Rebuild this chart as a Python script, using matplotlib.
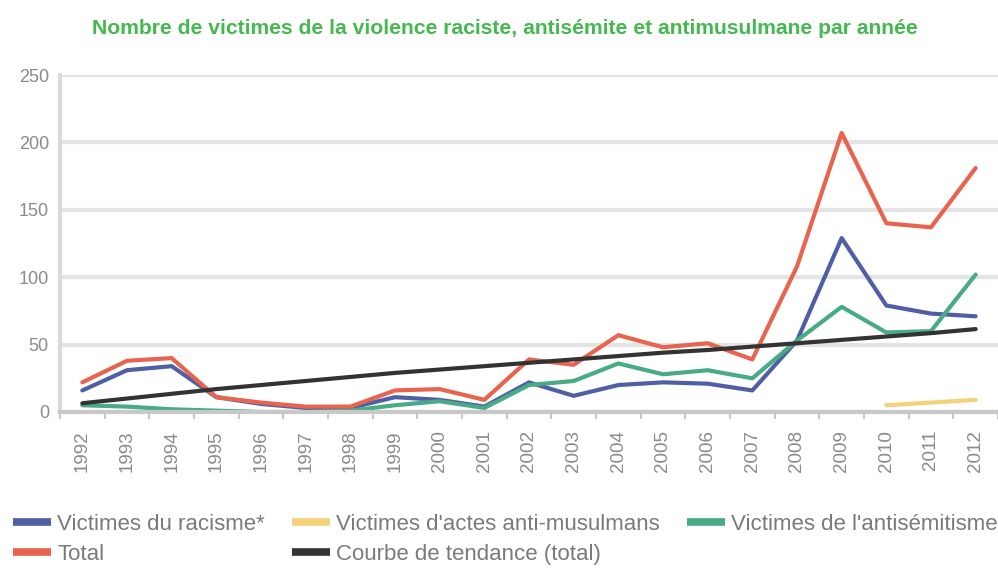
import numpy as np
import matplotlib
matplotlib.use("Agg")
import matplotlib.pyplot as plt
from matplotlib.ticker import FixedLocator

plt.rcParams['font.family'] = ['Liberation Sans', 'DejaVu Sans']

years = [str(y) for y in range(1992, 2013)]
racisme = [16, 31, 34, 11, 6, 3, 3, 11, 9, 4, 22, 12, 20, 22, 21, 16, 53, 129, 79, 73, 71]
antimusulmans = [np.nan] * 18 + [5, 7, 9]
antisemitisme = [5, 4, 2, 1, 0, 0, 1, 5, 8, 3, 20, 23, 36, 28, 31, 25, 53, 78, 59, 60, 102]
total = [22, 38, 40, 11, 7, 4, 4, 16, 17, 9, 39, 35, 57, 48, 51, 39, 108, 207, 140, 137, 181]
tendance = [6.5, 10, 13.5, 17, 20, 23, 26, 29, 31.5, 34, 36.5, 39, 41.5, 44, 46, 48.5,
            51, 53.5, 56, 58.5, 61.5]

labels = ["Victimes du racisme*", "Victimes d'actes anti-musulmans",
          "Victimes de l'antisémitisme", "Total", "Courbe de tendance (total)"]
colors = ["#4f5fa6", "#f4d27a", "#48ab86", "#e8644f", "#333333"]

fig = plt.figure(figsize=(9.98, 5.70), dpi=100)
ax = fig.add_axes([60 / 998, 158 / 570, 938 / 998, 337 / 570])

x = np.arange(len(years))
series = [racisme, antimusulmans, antisemitisme, total, tendance]
lines = []
for vals, c, lab in zip(series, colors, labels):
    ln, = ax.plot(x, vals, color=c, lw=3, label=lab, solid_capstyle='round')
    lines.append(ln)

ax.set_xlim(-0.5, len(years) - 0.5)
ax.set_ylim(0, 250)
ax.set_yticks([0, 50, 100, 150, 200, 250])
ax.set_xticks(x)
ax.set_xticklabels(years, rotation=90, fontsize=13.5, color='#8a8a8a')
ax.xaxis.set_minor_locator(FixedLocator(np.arange(-0.5, len(years), 1.0)))
ax.tick_params(axis='x', which='major', length=0, pad=13)
ax.tick_params(axis='x', which='minor', length=5, width=1.5, color='#c8c8c8')
ax.tick_params(axis='y', length=0, pad=8, labelsize=13, labelcolor='#8a8a8a')

ax.grid(axis='y', color='#e4e4e4', lw=3)
ax.set_axisbelow(True)
for s in ['top', 'right']:
    ax.spines[s].set_visible(False)
ax.spines['left'].set_color('#dadada')
ax.spines['left'].set_linewidth(3)
ax.spines['bottom'].set_color('#c8c8c8')
ax.spines['bottom'].set_linewidth(3)

fig.text(0.506, 1 - 28 / 570,
         "Nombre de victimes de la violence raciste, antisémite et antimusulmane par année",
         ha='center', va='center', fontsize=15.2, fontweight='bold', color='#45b84f')

# column-major order: [racisme, total] [anti-musulmans, tendance] [antisemitisme]
order = [0, 3, 1, 4, 2]
leg = fig.legend(handles=[lines[i] for i in order], loc='upper left',
                 bbox_to_anchor=(13 / 998, 1 - 514 / 570), borderpad=0, borderaxespad=0,
                 ncol=3, frameon=False, fontsize=16, handlelength=1.7,
                 handletextpad=0.3, columnspacing=1.2, labelspacing=0.4)
for t in leg.get_texts():
    t.set_color('#7a7a7a')
for h in leg.legend_handles:
    h.set_linewidth(5.5)
    h.set_solid_capstyle('butt')

fig.savefig("out.png", dpi=100)
